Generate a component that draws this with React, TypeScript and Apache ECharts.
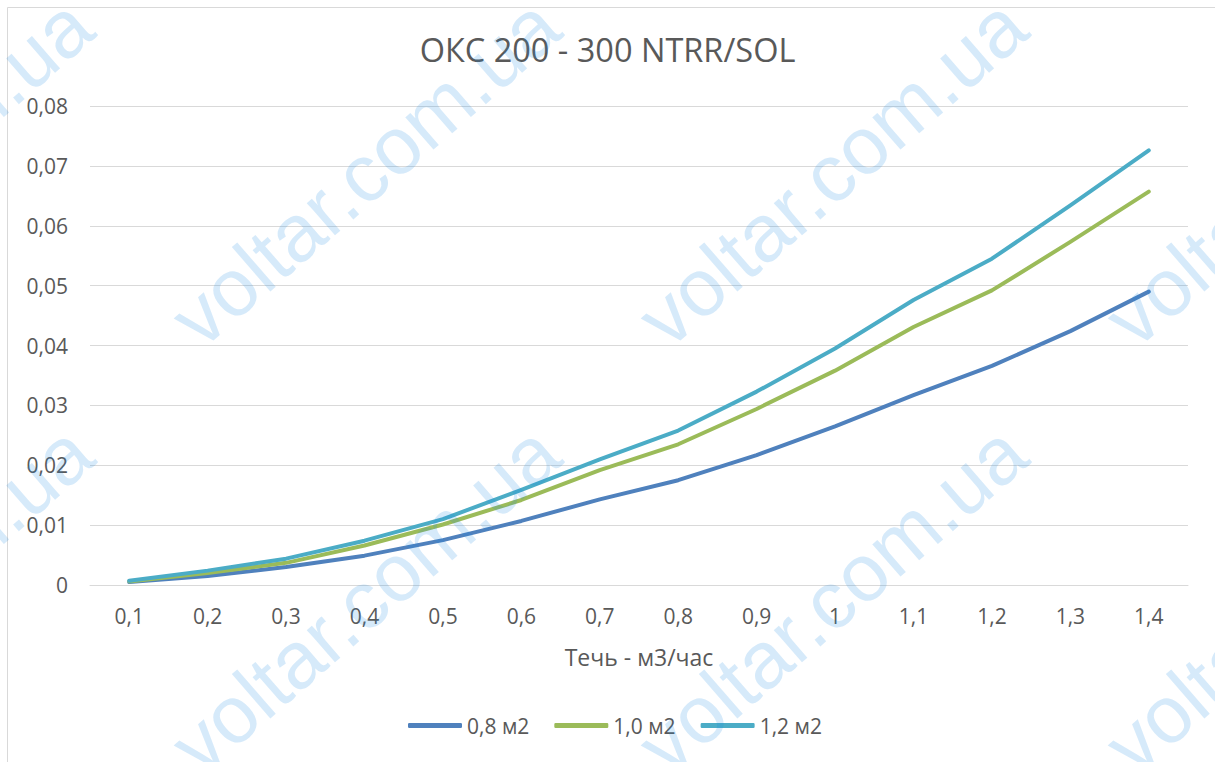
import React, { useEffect, useRef } from "react";
import * as echarts from "echarts";

const categories = ["0,1", "0,2", "0,3", "0,4", "0,5", "0,6", "0,7", "0,8", "0,9", "1", "1,1", "1,2", "1,3", "1,4"];
const series08 = [0.0005, 0.0015, 0.003, 0.0049, 0.0075, 0.0107, 0.0143, 0.0175, 0.0217, 0.0265, 0.0317, 0.0366, 0.0424, 0.049];
const series10 = [0.0006, 0.002, 0.0037, 0.0066, 0.0101, 0.0142, 0.0192, 0.0235, 0.0294, 0.0358, 0.0431, 0.0492, 0.0573, 0.0657];
const series12 = [0.0007, 0.0024, 0.0044, 0.0074, 0.011, 0.0159, 0.021, 0.0258, 0.0323, 0.0395, 0.0476, 0.0545, 0.0634, 0.0726];
const seriesNames = ["0,8 м2", "1,0 м2", "1,2 м2"];
const seriesColors = ["#4f81bd", "#9bbb59", "#4bacc6"];
const titleText = "ОКС 200 - 300 NTRR/SOL";
const xAxisName = "Течь - м3/час";
const watermarkText = "voltar.com.ua";

const FONT = '"Open Sans", "Noto Sans", sans-serif';
const TEXT_COLOR = "#595959";
const GRID_COLOR = "#d9d9d9";

export default function App() {
  const ref = useRef<HTMLDivElement>(null);
  useEffect(() => {
    if (!ref.current) return;
    const chart = echarts.init(ref.current, undefined, { renderer: "svg" });
    const wmX = [-102, 365, 832, 1299];
    const wmY = [172, 599];
    const watermarks: any[] = [];
    wmY.forEach((y) =>
      wmX.forEach((x) =>
        watermarks.push({
          type: "text",
          x,
          y,
          rotation: (41 * Math.PI) / 180,
          silent: true,
          z: 100,
          style: {
            text: watermarkText,
            fontSize: 81,
            fontFamily: '"Liberation Sans", Arial, sans-serif',
            fill: "rgba(30,136,229,0.18)",
            align: "center",
            verticalAlign: "middle",
            textAlign: "center",
            textVerticalAlign: "middle",
          },
        })
      )
    );
    const data = [series08, series10, series12];
    chart.setOption({
      animation: false,
      backgroundColor: "#ffffff",
      title: {
        text: titleText,
        left: "center",
        top: 33,
        padding: 0,
        textStyle: { fontFamily: FONT, fontSize: 32.5, fontWeight: "normal", color: TEXT_COLOR },
      },
      legend: {
        data: seriesNames,
        left: 408,
        top: 715,
        padding: 0,
        itemWidth: 54,
        itemHeight: 5,
        itemGap: 25,
        icon: "roundRect",
        textStyle: { fontFamily: FONT, fontSize: 21, color: TEXT_COLOR },
      },
      grid: { left: 90, right: 27, top: 106, bottom: 177, containLabel: false },
      xAxis: {
        type: "category",
        data: categories,
        boundaryGap: true,
        name: xAxisName,
        nameLocation: "middle",
        nameGap: 60,
        nameTextStyle: { fontFamily: FONT, fontSize: 23, color: TEXT_COLOR },
        axisLine: { show: true, lineStyle: { color: GRID_COLOR, width: 1 } },
        axisTick: { show: false },
        axisLabel: { fontFamily: FONT, fontSize: 21, color: TEXT_COLOR, margin: 20 },
        splitLine: { show: false },
      },
      yAxis: {
        type: "value",
        min: 0,
        max: 0.08,
        interval: 0.01,
        axisLine: { show: false },
        axisTick: { show: false },
        axisLabel: {
          fontFamily: FONT,
          fontSize: 21,
          color: TEXT_COLOR,
          margin: 22,
          formatter: (v: number) => (v === 0 ? "0" : v.toFixed(2).replace(".", ",")),
        },
        splitLine: { show: true, lineStyle: { color: GRID_COLOR, width: 1 } },
      },
      series: seriesNames.map((name, i) => ({
        name,
        type: "line",
        data: data[i],
        color: seriesColors[i],
        showSymbol: false,
        symbol: "none",
        smooth: false,
        lineStyle: { width: 4, color: seriesColors[i], cap: "round", join: "round" },
        itemStyle: { color: seriesColors[i] },
      })),
      graphic: [
        {
          type: "rect",
          silent: true,
          z: 50,
          shape: { x: 7.5, y: 7.5, width: 1400, height: 1000 },
          style: { fill: "none", stroke: GRID_COLOR, lineWidth: 1 },
        },
        ...watermarks,
      ],
    });
    return () => chart.dispose();
  }, []);
  return (
    <div
      ref={ref}
      style={{ position: "absolute", left: 0, top: 0, width: 1215, height: 762, background: "#fff" }}
    />
  );
}
